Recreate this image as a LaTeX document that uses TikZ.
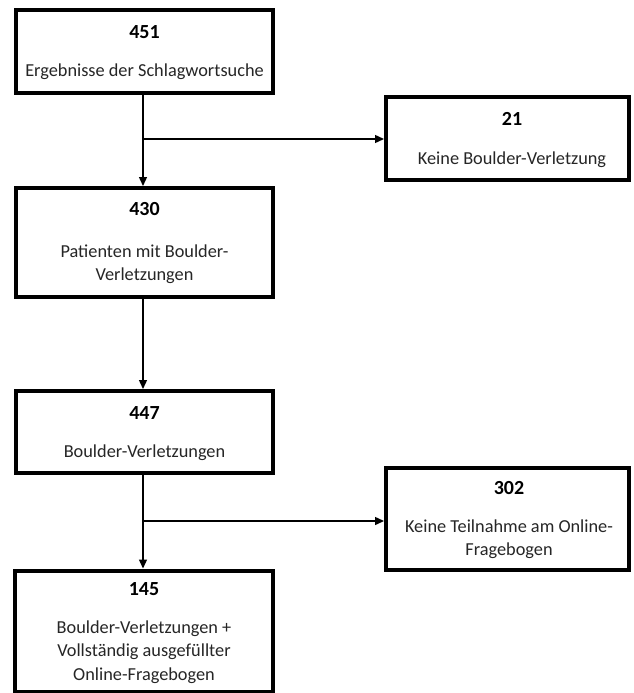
\documentclass[tikz,border=0pt]{standalone}
\usepackage{fontspec}
\setmainfont{Carlito}
\usetikzlibrary{arrows.meta}
\begin{document}
\begin{tikzpicture}[x=1pt,y=-1pt,
  box/.style={draw=black,line width=4pt,fill=white,inner sep=0pt},
  num/.style={font=\fontsize{20}{23}\selectfont\bfseries,inner sep=0pt},
  txt/.style={font=\fontsize{18.3}{23.5}\selectfont,align=center,inner sep=0pt,text=black!85},
  arr/.style={line width=1.4pt,-{Triangle[length=9pt,width=8pt]}},
  ln/.style={line width=1.4pt}]
\useasboundingbox (0,0) rectangle (633,693);
% boxes
\node[box,minimum width=257pt,minimum height=83pt] (b1) at (144.5,51.5) {};
\node[box,minimum width=243pt,minimum height=83pt] (b2) at (507.5,138.5) {};
\node[box,minimum width=257pt,minimum height=109pt] (b3) at (144.5,242.5) {};
\node[box,minimum width=257pt,minimum height=82pt] (b4) at (144.5,432) {};
\node[box,minimum width=243pt,minimum height=102pt] (b5) at (507.5,519) {};
\node[box,minimum width=258pt,minimum height=121pt] (b6) at (144,631) {};
% texts
\node[num] (n1) at (144.5,32) {451};
\node[txt] (t1) at (144.5,72) {Ergebnisse der Schlagwortsuche};
\node[num] (n2) at (512,119) {21};
\node[txt] (t2) at (512,160) {Keine Boulder-Verletzung};
\node[num] (n3) at (144.5,209) {430};
\node[txt,anchor=center] (t3) at (144.5,264) {Patienten mit Boulder-\\Verletzungen};
\node[num] (n4) at (144.5,413) {447};
\node[txt] (t4) at (144.5,453) {Boulder-Verletzungen};
\node[num] (n5) at (509,488) {302};
\node[txt] (t5) at (509,539) {Keine Teilnahme am Online-\\Fragebogen};
\node[num] (n6) at (144,589) {145};
\node[txt] (t6) at (144,652) {Boulder-Verletzungen +\\Vollständig ausgefüllter\\Online-Fragebogen};
% connectors
\coordinate (j1) at (143,139);
\coordinate (j2) at (143,521);
\draw[ln] (b1.south -| j1) -- (j1);
\draw[arr] (j1) -- (b3.north -| j1);
\draw[arr] (j1) -- (b2.west |- j1);
\draw[arr] (b3.south -| j1) -- (b4.north -| j1);
\draw[ln] (b4.south -| j2) -- (j2);
\draw[arr] (j2) -- (b6.north -| j2);
\draw[arr] (j2) -- (b5.west |- j2);
\end{tikzpicture}
\end{document}
